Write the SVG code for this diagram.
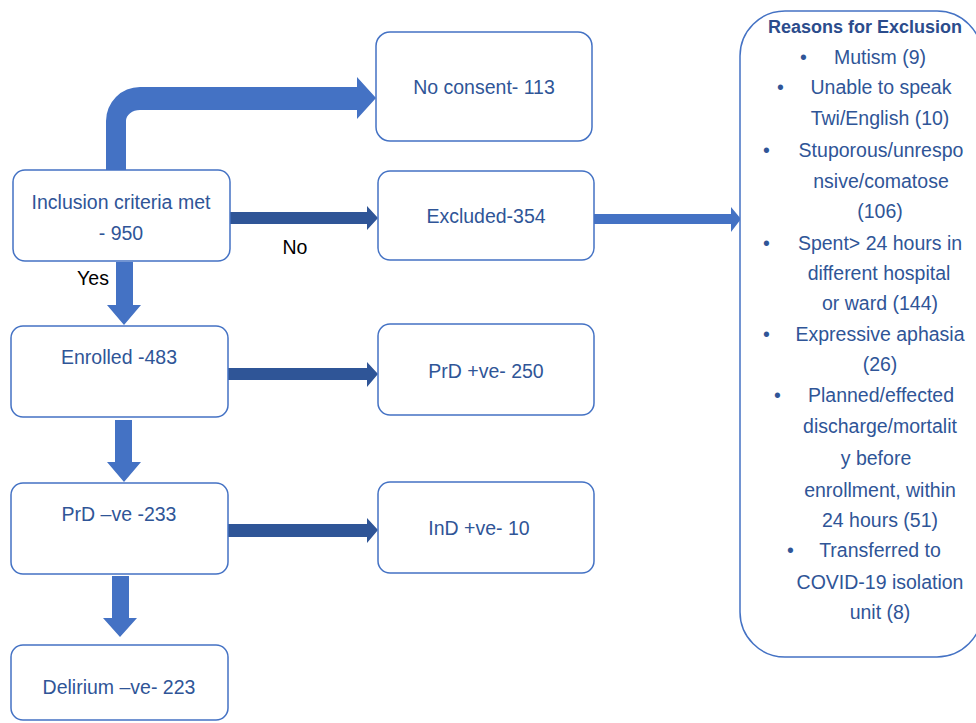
<svg xmlns="http://www.w3.org/2000/svg" width="976" height="723" viewBox="0 0 976 723">
<style>
.box{fill:#fff;stroke:#4472C4;stroke-width:1.5}
.t{font-family:"Liberation Sans",Arial,sans-serif;font-size:19.5px;fill:#2F5597;text-anchor:middle}
.b{font-family:"Liberation Sans",Arial,sans-serif;font-size:19.5px;fill:#2F5597}
.lbl{font-family:"Liberation Sans",Arial,sans-serif;font-size:19.5px;fill:#000;text-anchor:middle}
.title{font-family:"Liberation Sans",Arial,sans-serif;font-size:18px;font-weight:bold;fill:#2B4C8C;text-anchor:middle}
.light{fill:#4472C4}
.dark{fill:#2F5597}
</style>
<rect width="976" height="723" fill="#fff"/>
<g id="connectors">
<path class="light" d="M106,171 L106,121 A34,34 0 0 1 140,87 L357,87 L357,77 L376,98 L357,119 L357,110 L140,110 A14,11 0 0 0 126,121 L126,171 Z"/>
<path class="dark" d="M230,212 L367,212 L367,206 L378,218 L367,230 L367,224 L230,224 Z"/>
<path class="light" d="M594,214 L731,214 L731,207 L741,219 L731,232 L731,224 L594,224 Z"/>
<path class="light" d="M116,262 L133,262 L133,305 L141,305 L124,325 L107,305 L116,305 Z"/>
<path class="dark" d="M228,368 L367,368 L367,362 L378,374 L367,387 L367,380 L228,380 Z"/>
<path class="light" d="M115,420 L132,420 L132,462 L141,462 L124,482 L107,462 L115,462 Z"/>
<path class="dark" d="M228,524 L367,524 L367,518 L378,530 L367,543 L367,537 L228,537 Z"/>
<path class="light" d="M112,576 L129,576 L129,618 L137,618 L120,637 L103,618 L112,618 Z"/>
<text class="lbl" x="295" y="254">No</text>
<text class="lbl" x="93" y="285">Yes</text>
</g>
<g id="inclusion">
<rect class="box" x="13" y="170" width="217" height="91" rx="12"/>
<text class="t" x="121" y="209">Inclusion criteria met</text>
<text class="t" x="121" y="240">- 950</text>
</g>
<g id="noconsent">
<rect class="box" x="376" y="32" width="216" height="109" rx="14"/>
<text class="t" x="484" y="94">No consent- 113</text>
</g>
<g id="excluded">
<rect class="box" x="378" y="171" width="216" height="89" rx="12"/>
<text class="t" x="486" y="223">Excluded-354</text>
</g>
<g id="enrolled">
<rect class="box" x="11" y="326" width="217" height="91" rx="12"/>
<text class="t" x="119" y="364">Enrolled -483</text>
</g>
<g id="prdpos">
<rect class="box" x="378" y="324" width="216" height="91" rx="12"/>
<text class="t" x="486" y="378">PrD +ve- 250</text>
</g>
<g id="prdneg">
<rect class="box" x="11" y="483" width="217" height="91" rx="12"/>
<text class="t" x="119" y="521">PrD –ve -233</text>
</g>
<g id="indpos">
<rect class="box" x="378" y="482" width="216" height="91" rx="12"/>
<text class="t" x="479" y="535">InD +ve- 10</text>
</g>
<g id="delirium">
<rect class="box" x="11" y="645" width="217" height="75" rx="12"/>
<text class="t" x="119" y="694">Delirium –ve- 223</text>
</g>
<g id="reasons">
<rect class="box" x="740" y="11" width="242" height="646" rx="45"/>
<text class="title" x="865" y="33">Reasons for Exclusion</text>
<text class="b" x="800" y="64">•</text>
<text class="t" x="880" y="64">Mutism (9)</text>
<text class="b" x="777" y="94">•</text>
<text class="t" x="881" y="94">Unable to speak</text>
<text class="t" x="880" y="125">Twi/English (10)</text>
<text class="b" x="763" y="157">•</text>
<text class="t" x="881" y="157">Stuporous/unrespo</text>
<text class="t" x="881" y="188">nsive/comatose</text>
<text class="t" x="880" y="218">(106)</text>
<text class="b" x="763" y="250">•</text>
<text class="t" x="880" y="250">Spent&gt; 24 hours in</text>
<text class="t" x="879" y="280">different hospital</text>
<text class="t" x="880" y="310">or ward (144)</text>
<text class="b" x="763" y="341">•</text>
<text class="t" x="880" y="341">Expressive aphasia</text>
<text class="t" x="880" y="371">(26)</text>
<text class="b" x="774" y="402">•</text>
<text class="t" x="881" y="402">Planned/effected</text>
<text class="t" x="880" y="433">discharge/mortalit</text>
<text class="t" x="876" y="465">y before</text>
<text class="t" x="880" y="497">enrollment, within</text>
<text class="t" x="880" y="527">24 hours (51)</text>
<text class="b" x="787" y="557">•</text>
<text class="t" x="880" y="557">Transferred to</text>
<text class="t" x="880" y="589">COVID-19 isolation</text>
<text class="t" x="880" y="619">unit (8)</text>
</g>
</svg>
